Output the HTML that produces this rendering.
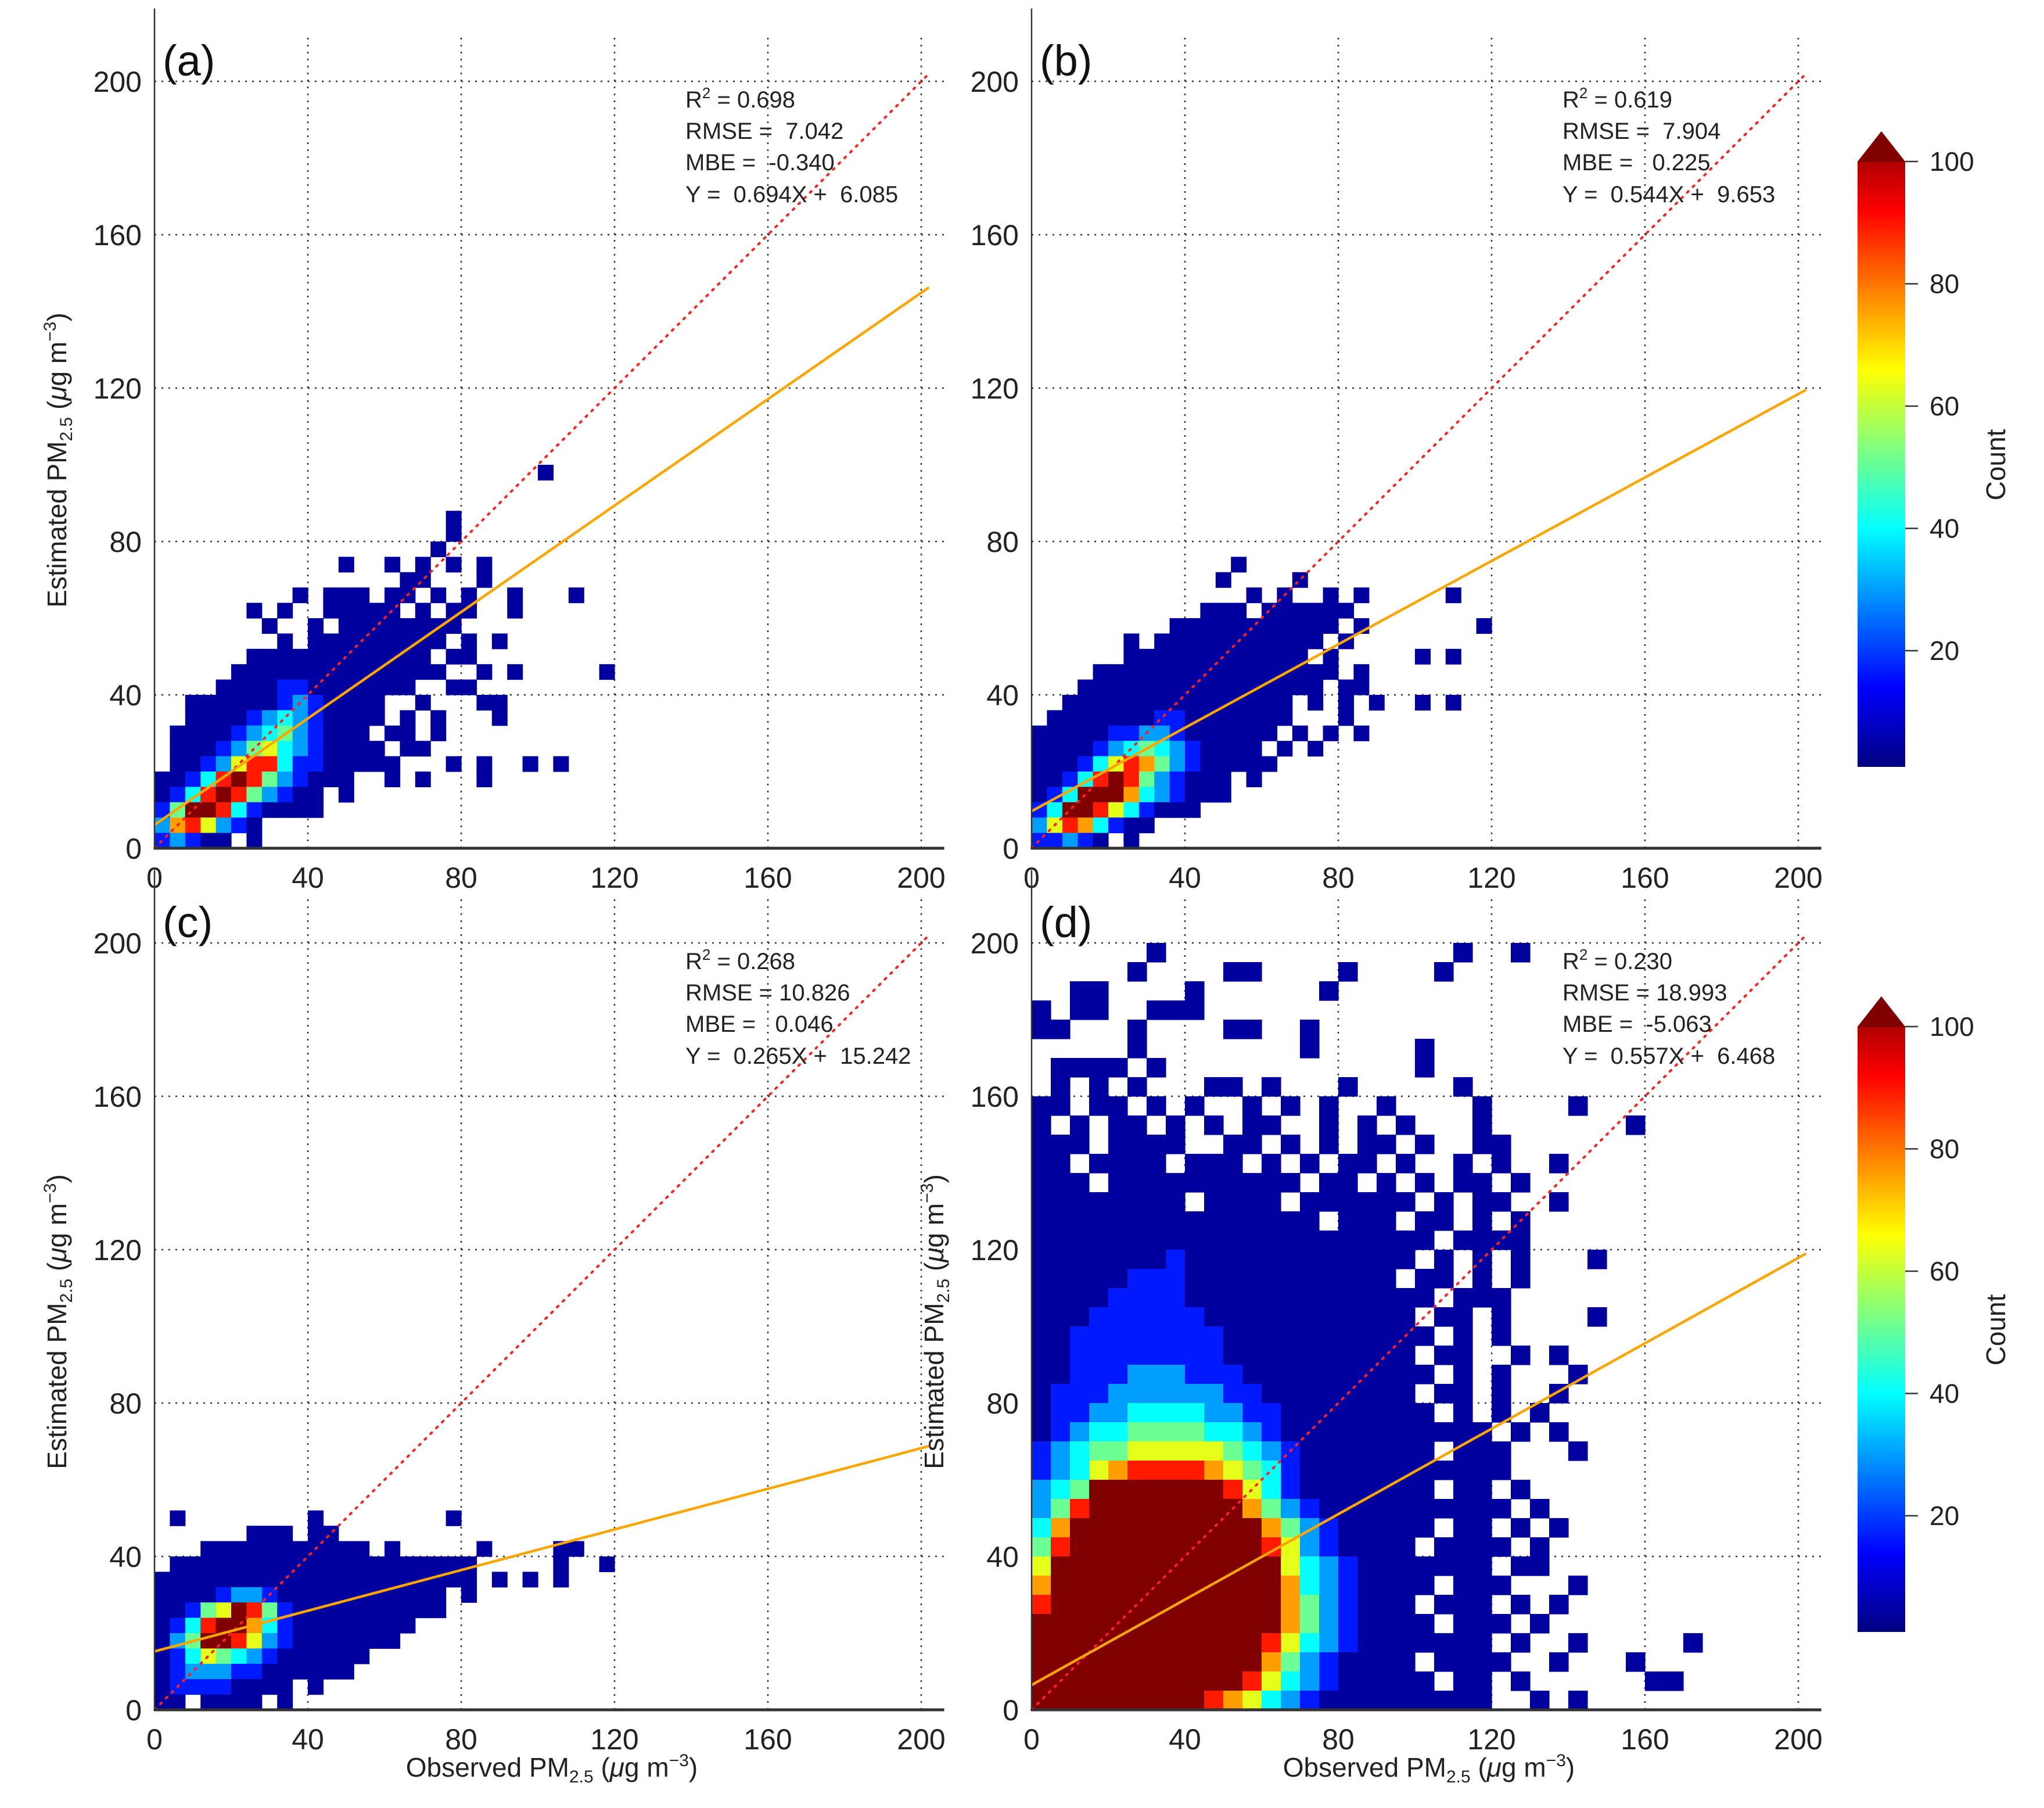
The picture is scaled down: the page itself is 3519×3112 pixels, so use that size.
<!DOCTYPE html>
<html><head><meta charset="utf-8"><title>PM2.5 density scatter</title>
<style>
html,body{margin:0;padding:0;background:#fff;}
svg{display:block;font-family:"Liberation Sans",Arial,sans-serif;}
</style></head>
<body>
<svg id="fig" xmlns="http://www.w3.org/2000/svg" width="3519" height="3112" viewBox="0 0 3519 3112">
<defs>
<linearGradient id="jet" x1="0" y1="1" x2="0" y2="0">
<stop offset="0" stop-color="#000080"/><stop offset="0.125" stop-color="#0000ff"/>
<stop offset="0.375" stop-color="#00ffff"/><stop offset="0.625" stop-color="#ffff00"/>
<stop offset="0.875" stop-color="#ff0000"/><stop offset="1" stop-color="#800000"/>
</linearGradient>
</defs>
<rect x="0" y="0" width="3519" height="3112" fill="#fff"/>
</svg>
<script>
// ---- data ----
const xTicks = [0, 40, 80, 120, 160, 200];
const yTicks = [0, 40, 80, 120, 160, 200];
const cbTicks = [20, 40, 60, 80, 100];
const levelCounts = [0, 3, 15, 28, 38, 48, 60, 72, 85, 100];
const fitA = [0.694, 6.085];
const fitB = [0.544, 9.653];
const fitC = [0.265, 15.242];
const fitD = [0.557, 6.468];
const statsA = ["0.698", "7.042", "-0.340", "0.694X", "6.085"];
const statsB = ["0.619", "7.904", "0.225", "0.544X", "9.653"];
const statsC = ["0.268", "10.826", "0.046", "0.265X", "15.242"];
const statsD = ["0.230", "18.993", "-5.063", "0.557X", "6.468"];
// grids: rows from top to bottom; chars = count level
const gridA = [
"...... ...... ...... ...... .1....",
"",
"",
"...... ...... ...... .1....",
"...... ...... ...... .1....",
"...... ...... ...... 1.....",
"...... ...... 1..1.1 .1.1..",
"...... ...... ....11 ...1..",
"...... ...1.1 11.11. 1.1..1 ...1..",
"...... 1.1..1 1111.1 .11..1",
"...... .1..1. 111111 11....",
"...... ..1.11 111111 1.1.1.",
"...... 111111 111111 .11...",
".....1 111111 111111 1..1.1 .....1",
"....11 112211 11111. .11...",
"..1111 112321 111..1 ...11.",
"..1111 234321 111.1. 1...1.",
".11112 345321 11.11. 1.....",
".11123 564321 111.11",
".11236 884221 1111.. .1.1.. 1.1...",
"112489 853211 1..1.1 ...1..",
"124898 53211. 1.....",
"259984 21111.",
"378632 1.....",
"23211. 1....."
];
const gridB = [
"...... ...... .1....",
"...... ...... 1....1",
"...... ...... ..1.1. .1.1.. ...1..",
"...... .....1 11.111 111...",
"...... ...111 111111 11.1.. .....1",
"...... 1.1111 111111 1.1...",
"...... 111111 111111 .1.... .1.1..",
"....11 111111 111111 11.1..",
"...111 111111 111111 1.11..",
"..1111 111111 11111. 1.1.1. .1.1..",
".11111 112211 11111. ..1...",
"111112 233211 1111.1 .1.1..",
"111123 454321 111.1. 1.....",
"111246 875321 1111..",
"112489 853211 1.1...",
"124999 743211 1.....",
"249986 42111.",
"368742 11....",
"22321. 1....."
];
const gridC = [
".1.... ....1. ...... .1....",
"...... 111.11",
"...111 111111 11.1.. ...1.. ..11..",
".11111 111111 111111 111... ..1..1",
"111111 111111 111111 111.1. 1.1...",
"111123 321111 111111 1.1...",
"112569 852111 111111 1.....",
"124899 742111 11111.",
"135998 632111 1111..",
"124654 321111 11....",
"123332 211111 1.....",
"122221 111.1.",
"11.111 1.1..."
];
const gridD = [
"...... 1..... ...... ....1. .1....",
".....1 ....11 ....1. ...1..",
"..11.. ..1... ...1..",
"1.11.. 111...",
"11...1 ....11 ..1...",
".....1 ...... ..1... ..1...",
".1111. 1..... ...... ..1...",
".1.1.1 ...11. 1...1. ....1.",
"11.11. 1.1..1 .1.1.. 1....1 ....1.",
"1.1.11 .1.1.1 1..1.1 .1...1 ...... .1....",
"111.11 11..11 .1.1.1 1.1..1 1.....",
"11.111 1.111. 1.1.11 .1..1. 1..1..",
"111.11 111111 11.11. 1.1.11 .1....",
"111111 11.111 1.1111 11.1.1 1..1..",
"111111 111111 111.11 1.11.1 .1....",
"111111 111111 111111 111.11 11....",
"111111 121111 111111 11.1.1 .1...1",
"111112 221111 111111 1.11.1 .1....",
"111122 221111 111111 111.11 1.....",
"111222 222111 111111 11.11. 1....1",
"112222 222211 111111 111.1. 1.....",
"112222 222211 111111 11.11. .1.1..",
"112223 332221 111111 111.1. 1...1.",
"122233 333322 111111 11.11. 1..1..",
"122334 444332 211111 111.1. 1.1...",
"123445 555443 211111 111111 .1.1..",
"234556 666654 321111 111.11 1...1.",
"234678 888765 421111 111111 1.....",
"345999 999986 421111 111.11 .1....",
"358999 999997 532111 111111 1.1...",
"479999 999999 753211 111.11 .1.1..",
"589999 999999 863211 11.111 1.1...",
"699999 999999 964321 111111 .11...",
"799999 999999 974321 111.11 1...1.",
"899999 999999 975321 11.111 .1.1..",
"999999 999999 975321 111.11 1.1...",
"999999 999999 864321 111111 .1..1. ....1.",
"999999 999999 753211 11.111 1..1.. .1....",
"999999 999998 643211 111.11 .1.... ..11..",
"999999 999876 432111 111111 ..1.1."
];

// ---- drawing ----
const NS = "http://www.w3.org/2000/svg";
const svg = document.getElementById("fig");
const UNIT = 6.6;
function jet(v){
  const c = t => Math.max(0, Math.min(1, t));
  const r = c(1.5 - Math.abs(4*v - 3)), g = c(1.5 - Math.abs(4*v - 2)), b = c(1.5 - Math.abs(4*v - 1));
  return "rgb(" + Math.round(r*255) + "," + Math.round(g*255) + "," + Math.round(b*255) + ")";
}
function mk(tag, attrs, parent){
  const e = document.createElementNS(NS, tag);
  for (const k in attrs) e.setAttribute(k, attrs[k]);
  (parent || svg).appendChild(e);
  return e;
}
function panel(cfg){
  const g = mk("g", {});
  
  
  const X = v => cfg.x0 + v*UNIT;
  const Y = v => cfg.y0 - v*UNIT;
  xTicks.forEach(t => {
    if (t === 0) return;
    const l = mk("line", {x1:X(t), x2:X(t), y1:Y(0), y2:Y(212), stroke:"#333", "stroke-width":2.5, "stroke-dasharray":"3 9"}, g);
    
    
  });
  yTicks.forEach(t => {
    if (t === 0) return;
    const l = mk("line", {x1:X(0), x2:X(206), y1:Y(t), y2:Y(t), stroke:"#333", "stroke-width":2.5, "stroke-dasharray":"3 9"}, g);
    
    
  });
  const cg = mk("g", {}, g);
  
  
  const rows = cfg.grid, n = rows.length, b = cfg.bin;
  rows.forEach((s, i) => {
    const row = s.replace(/ /g, "");
    const rIdx = n - 1 - i;
    for (let c = 0; c < row.length; c++){
      const lv = row[c] === "." ? 0 : parseInt(row[c], 10);
      if (!lv) continue;
      const cnt = levelCounts[lv];
      const rc = mk("rect", {x:X(c*b), y:Y((rIdx+1)*b), width:b*UNIT+0.6, height:b*UNIT+0.6, fill:jet(cnt/100)}, cg);
      
      
    }
  });
  const one = mk("line", {x1:X(0), y1:Y(0), x2:X(202), y2:Y(202), stroke:"#ff2020", "stroke-width":4, "stroke-dasharray":"3 11", "stroke-linecap":"round"}, g);
  
  
  const fit = mk("line", {x1:X(0), y1:Y(cfg.fit[1]), x2:X(202), y2:Y(cfg.fit[0]*202 + cfg.fit[1]), stroke:"#ffa500", "stroke-width":4.5}, g);
  
  
  const ls = mk("line", {x1:X(0), x2:X(0), y1:Y(0), y2:Y(219), stroke:"#333", "stroke-width":2.5}, g);
  
  
  const bs = mk("line", {x1:X(0)-1, x2:X(206), y1:Y(0), y2:Y(0), stroke:"#333", "stroke-width":5}, g);
  
  
  xTicks.forEach(t => {
    const tx = mk("text", {x:X(t), y:cfg.y0+68, "font-size":50, "text-anchor":"middle", fill:"#222"}, g);
    tx.textContent = t;
    
    
  });
  yTicks.forEach(t => {
    const tx = mk("text", {x:cfg.x0-22, y:Y(t)+18, "font-size":50, "text-anchor":"end", fill:"#222"}, g);
    tx.textContent = t;
    
    
  });
  const pl = mk("text", {x:cfg.x0+14, y:cfg.y0-1330, "font-size":74, fill:"#111"}, g);
  pl.textContent = "(" + cfg.id + ")";
  
  
  const sx = cfg.x0 + 914, s = cfg.stats;
  const lines = [
    ["R", "2", " = " + s[0]],
    ["RMSE = ", "", (s[1].length < 6 ? "\u00a0" : "") + s[1]],
    ["MBE = ", "", (s[2][0] === "-" ? "\u00a0" : "\u00a0\u00a0") + s[2]],
    ["Y = ", "", "\u00a0" + s[3] + " +\u00a0\u00a0" + s[4]]
  ];
  const bases = [-1275, -1221, -1167, -1112];
  lines.forEach((ln, i) => {
    const t = mk("text", {x:sx, y:cfg.y0 + bases[i], "font-size":40, fill:"#222"}, g);
    
    
    const a = mk("tspan", {}, t); a.textContent = ln[0];
    if (ln[1]) { const sp = mk("tspan", {dy:-16, "font-size":26}, t); sp.textContent = ln[1]; const b2 = mk("tspan", {dy:16}, t); b2.textContent = ln[2]; }
    else { const b2 = mk("tspan", {}, t); b2.textContent = ln[2]; }
  });
  if (cfg.ylab){
    const cx = cfg.x0 - 152, cy = cfg.y0 - 668;
    const t = mk("text", {x:cx, y:cy, "font-size":46, "text-anchor":"middle", fill:"#222", transform:"rotate(-90 " + cx + " " + cy + ")"}, g);
    
    
    t.innerHTML = 'Estimated PM<tspan font-size="30" dy="10">2.5</tspan><tspan dy="-10"> (</tspan><tspan font-style="italic">\u03bc</tspan>g m<tspan font-size="30" dy="-18">\u22123</tspan><tspan dy="18">)</tspan>';
  }
  if (cfg.xlab){
    const cx = cfg.x0 + 684, cy = 3058;
    const t = mk("text", {x:cx, y:cy, "font-size":46, "text-anchor":"middle", fill:"#222"}, g);
    
    
    t.innerHTML = 'Observed PM<tspan font-size="30" dy="10">2.5</tspan><tspan dy="-10"> (</tspan><tspan font-style="italic">\u03bc</tspan>g m<tspan font-size="30" dy="-18">\u22123</tspan><tspan dy="18">)</tspan>';
  }
}
function colorbar(dy){
  const g = mk("g", {});
  
  
  const top = 278 + dy, bot = 1320 + dy, x1 = 3198, x2 = 3280;
  const CY = c => bot - (c - 1) / 99 * (bot - top);
  const p = mk("path", {d:"M" + x1 + " " + bot + " L" + x1 + " " + top + " L" + ((x1+x2)/2) + " " + (226+dy) + " L" + x2 + " " + top + " L" + x2 + " " + bot + " Z", fill:"url(#jet)"}, g);
  
  
  const tri = mk("path", {d:"M" + x1 + " " + (top+1) + " L" + ((x1+x2)/2) + " " + (226+dy) + " L" + x2 + " " + (top+1) + " Z", fill:"#800000"}, g);
  
  
  cbTicks.forEach(c => {
    const l = mk("line", {x1:x2, x2:x2+22, y1:CY(c), y2:CY(c), stroke:"#333", "stroke-width":2.5}, g);
    
    
    const t = mk("text", {x:3322, y:CY(c)+16, "font-size":46, fill:"#222"}, g);
    t.textContent = c;
    
    
  });
  const cx = 3452, cy = 800 + dy;
  const t = mk("text", {x:cx, y:cy, "font-size":46, "text-anchor":"middle", fill:"#222", transform:"rotate(-90 " + cx + " " + cy + ")"}, g);
  t.textContent = "Count";
  
  
}
panel({id:"a", x0:266, y0:1460, grid:gridA, bin:4, fit:fitA, stats:statsA, ylab:true, xlab:false});
panel({id:"b", x0:1776, y0:1460, grid:gridB, bin:4, fit:fitB, stats:statsB, ylab:false, xlab:false});
panel({id:"c", x0:266, y0:2943, grid:gridC, bin:4, fit:fitC, stats:statsC, ylab:true, xlab:true});
panel({id:"d", x0:1776, y0:2943, grid:gridD, bin:5, fit:fitD, stats:statsD, ylab:true, xlab:true});
colorbar(0);
colorbar(1489);
</script>
</body></html>
